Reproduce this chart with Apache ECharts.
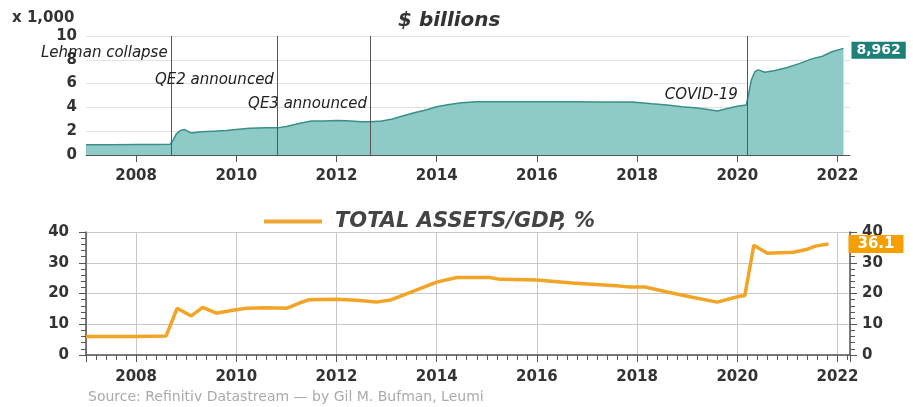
<!DOCTYPE html>
<html>
<head>
<meta charset="utf-8">
<style>
  html, body { margin: 0; padding: 0; background: #fff; }
  #chart { width: 913px; height: 407px; }
</style>
<script src="https://cdn.jsdelivr.net/npm/echarts@6/dist/echarts.min.js"></script>
</head>
<body>
<div id="chart"></div>
<script>
// Fed total assets, thousands of $ billions (decimal year, value)
const fedYears = [
  2007.0, 2007.5, 2008.0, 2008.4, 2008.68, 2008.74, 2008.8, 2008.88, 2008.96, 2009.1,
  2009.3, 2009.55, 2009.8, 2010.0, 2010.26, 2010.6, 2010.82, 2011.0, 2011.25, 2011.5,
  2011.75, 2012.0, 2012.2, 2012.5, 2012.68, 2012.9, 2013.1, 2013.3, 2013.55, 2013.8,
  2014.0, 2014.25, 2014.5, 2014.8, 2015.2, 2015.7, 2016.2, 2016.7, 2017.2, 2017.6,
  2017.9, 2018.3, 2018.6, 2018.9, 2019.2, 2019.45, 2019.6, 2019.8, 2020.0, 2020.18,
  2020.22, 2020.28, 2020.35, 2020.42, 2020.55, 2020.75, 2021.0, 2021.25, 2021.5, 2021.7,
  2021.9, 2022.12
];
const fedAssets = [
  0.86, 0.87, 0.88, 0.88, 0.90, 1.25, 1.75, 2.05, 2.15, 1.85,
  1.95, 2.0, 2.05, 2.15, 2.25, 2.3, 2.28, 2.4, 2.65, 2.85,
  2.85, 2.9, 2.88, 2.8, 2.8, 2.85, 3.0, 3.25, 3.55, 3.8,
  4.05, 4.25, 4.4, 4.48, 4.48, 4.48, 4.47, 4.47, 4.46, 4.45,
  4.45, 4.3, 4.2, 4.05, 3.95, 3.8, 3.7, 3.9, 4.1, 4.2,
  5.0, 6.3, 7.0, 7.15, 6.95, 7.1, 7.35, 7.7, 8.1, 8.3,
  8.7, 8.962
];

// Total assets as a share of GDP, %
const ratioYears = [
  2007.0, 2008.0, 2008.6, 2008.82, 2009.1, 2009.33, 2009.6, 2009.9, 2010.2, 2010.6,
  2011.0, 2011.26, 2011.46, 2012.0, 2012.4, 2012.8, 2013.1, 2013.5, 2014.0, 2014.4,
  2015.06, 2015.26, 2016.0, 2016.7, 2017.66, 2017.86, 2018.16, 2018.6, 2019.1, 2019.6,
  2020.06, 2020.15, 2020.33, 2020.6, 2021.12, 2021.4, 2021.56, 2021.82
];
const ratioValues = [
  6.0, 6.0, 6.2, 15.2, 12.7, 15.5, 13.6, 14.5, 15.2, 15.4,
  15.2, 16.9, 18.0, 18.1, 17.8, 17.2, 18.0, 20.5, 23.7, 25.2,
  25.2, 24.6, 24.4, 23.4, 22.4, 22.1, 22.1, 20.5, 18.8, 17.2,
  19.2, 19.3, 35.7, 33.1, 33.4, 34.4, 35.4, 36.1
];

// Policy events marked on the upper panel
const eventYears = [2008.7, 2010.82, 2012.68, 2020.2];
const eventNames = ['Lehman collapse', 'QE2 announced', 'QE3 announced', 'COVID-19'];
const eventLabelLevels = [8.55, 6.3, 4.3, 5.0];

const xMin = 2007, xMax = 2022.25;
const FONT = 'DejaVu Sans';
const axisGray = '#555';

const pair = (xs, ys) => xs.map((x, i) => [x, ys[i]]);
const thousands = v => {
  const n = Math.round(v * 1000).toString();
  return n.replace(/\B(?=(\d{3})+(?!\d))/g, ',');
};

const chart = echarts.init(document.getElementById('chart'), null, { renderer: 'canvas' });

const xAxisCommon = {
  type: 'value', min: xMin, max: xMax, splitNumber: 8,
  axisLabel: {
    showMinLabel: false, showMaxLabel: false,
    formatter: v => String(Math.round(v)),
    fontFamily: FONT, fontWeight: 'bold', fontSize: 15, color: '#333'
  }
};

chart.setOption({
  animation: false,
  title: [
    { text: '$ billions', left: 398, top: 11, padding: 0,
      textStyle: { fontFamily: FONT, fontWeight: 'bold', fontStyle: 'italic', fontSize: 20, color: '#333' } },
    { text: 'x 1,000', left: 12, top: 11, padding: 0,
      textStyle: { fontFamily: FONT, fontWeight: 'bold', fontSize: 15, color: '#333' } },
    { text: 'Source: Refinitiv Datastream \u2014 by Gil M. Bufman, Leumi', left: 88, top: 390, padding: 0,
      textStyle: { fontFamily: FONT, fontWeight: 'normal', fontSize: 14, color: '#aaa' } }
  ],
  legend: {
    data: ['TOTAL ASSETS/GDP, %'],
    left: 259, top: 206,
    icon: 'rect', itemWidth: 58, itemHeight: 4,
    textStyle: { fontFamily: FONT, fontWeight: 'bold', fontStyle: 'italic', fontSize: 21, color: '#444', padding: [0, 0, 0, 8] }
  },
  grid: [
    { left: 86, right: 63, top: 36, bottom: 252 },
    { left: 86, right: 63, top: 232, bottom: 52 }
  ],
  xAxis: [
    Object.assign({}, xAxisCommon, {
      gridIndex: 0,
      axisLine: { show: true, lineStyle: { color: axisGray, width: 1 } },
      axisTick: { show: true, length: 7, lineStyle: { color: axisGray } },
      axisLabel: Object.assign({}, xAxisCommon.axisLabel, { margin: 14 }),
      splitLine: { show: false }
    }),
    Object.assign({}, xAxisCommon, {
      gridIndex: 1,
      axisLine: { show: true, lineStyle: { color: axisGray, width: 1.5 } },
      axisTick: { show: true, length: 7, lineStyle: { color: axisGray } },
      minorTick: { show: true, splitNumber: 10, length: 5, lineStyle: { color: axisGray } },
      axisLabel: Object.assign({}, xAxisCommon.axisLabel, { margin: 15 }),
      splitLine: { show: true, lineStyle: { color: '#c8c8c8', width: 1 } }
    })
  ],
  yAxis: [
    { type: 'value', gridIndex: 0, min: 0, max: 10, interval: 2,
      axisLine: { show: false }, axisTick: { show: false },
      axisLabel: { margin: 9, fontFamily: FONT, fontWeight: 'bold', fontSize: 15, color: '#333' },
      splitLine: { show: true, lineStyle: { color: '#e2e2e2', width: 1 } } },
    { type: 'value', gridIndex: 1, min: 0, max: 40, interval: 10, position: 'left',
      axisLine: { show: true, lineStyle: { color: axisGray, width: 1.5 } },
      axisTick: { show: true, length: 7, lineStyle: { color: axisGray } },
      minorTick: { show: true, splitNumber: 5, length: 5, lineStyle: { color: axisGray } },
      axisLabel: { margin: 17, fontFamily: FONT, fontWeight: 'bold', fontSize: 15, color: '#333' },
      splitLine: { show: true, lineStyle: { color: '#c8c8c8', width: 1 } } },
    { type: 'value', gridIndex: 1, min: 0, max: 40, interval: 10, position: 'right',
      axisLine: { show: true, lineStyle: { color: axisGray, width: 1.5 } },
      axisTick: { show: true, length: 7, lineStyle: { color: axisGray } },
      minorTick: { show: true, splitNumber: 5, length: 5, lineStyle: { color: axisGray } },
      axisLabel: { margin: 12, fontFamily: FONT, fontWeight: 'bold', fontSize: 15, color: '#333' },
      splitLine: { show: false } }
  ],
  series: [
    {
      name: 'Total assets',
      type: 'line', xAxisIndex: 0, yAxisIndex: 0,
      data: pair(fedYears, fedAssets),
      showSymbol: false, symbol: 'none',
      lineStyle: { color: '#3a8f8a', width: 1.5 },
      itemStyle: { color: '#3a8f8a' },
      areaStyle: { color: '#8fcbc6', opacity: 1 },
      endLabel: {
        show: true, distance: 8,
        formatter: p => thousands(p.value[1]),
        backgroundColor: '#1f7f79', color: '#fff',
        fontFamily: FONT, fontWeight: 'bold', fontSize: 14,
        padding: [2, 5, 1, 5], offset: [0, 2]
      },
      markLine: {
        silent: true, symbol: 'none',
        lineStyle: { color: '#555', width: 1, type: 'solid' },
        label: { show: false },
        data: eventYears.map(x => ({ xAxis: x }))
      },
      markPoint: {
        silent: true, symbol: 'circle', symbolSize: 1,
        itemStyle: { color: 'transparent' },
        label: {
          show: true, position: 'left', distance: 4,
          fontFamily: FONT, fontStyle: 'italic', fontSize: 15, color: '#222',
          formatter: p => p.name
        },
        data: eventYears.map((x, i) => ({
          name: eventNames[i], coord: [x, eventLabelLevels[i]],
          label: { distance: i === 3 ? 9 : 3 }
        }))
      },
      z: 2
    },
    {
      name: 'TOTAL ASSETS/GDP, %',
      type: 'line', xAxisIndex: 1, yAxisIndex: 1,
      data: pair(ratioYears, ratioValues),
      showSymbol: false, symbol: 'none',
      lineStyle: { color: '#f2a427', width: 3.5 },
      itemStyle: { color: '#eea934' },
      endLabel: {
        show: true, distance: 20,
        formatter: p => p.value[1].toFixed(1),
        backgroundColor: '#f5a000', color: '#fff',
        fontFamily: FONT, fontWeight: 'bold', fontSize: 15,
        padding: [2, 9, 1, 9]
      },
      z: 3
    }
  ]
});
</script>
</body>
</html>
